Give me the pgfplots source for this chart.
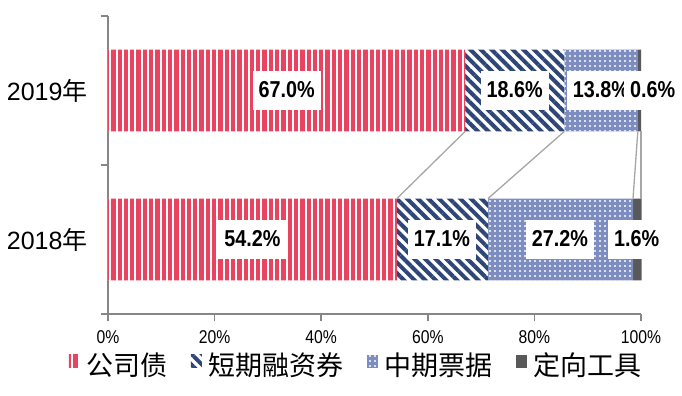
\documentclass[border=0pt]{standalone}
\usepackage{pgfplots}
\pgfplotsset{compat=1.18}
\usepackage{fontspec}
\usetikzlibrary{patterns.meta}
\setmainfont{Liberation Sans}
\newfontfamily\cjk{Noto Sans CJK SC}
\newfontfamily\tickfont[FakeStretch=0.85]{Liberation Sans}
\newfontfamily\lblfont[FakeStretch=0.86]{Liberation Sans}
\definecolor{cred}{HTML}{E9435F}
\definecolor{cnavy}{HTML}{2E4677}
\definecolor{cblue}{HTML}{7D8DC0}
\definecolor{cgray}{HTML}{595959}
\definecolor{caxis}{HTML}{868686}
\definecolor{cline}{HTML}{A6A6A6}
\begin{document}
\begin{tikzpicture}
\pgfplotsset{
  common/.style={
    scale only axis, width=533bp, height=298bp,
    xmin=0, xmax=100, ymin=-0.5, ymax=1.5, clip=false,
  }
}
\begin{axis}[common,
  xbar stacked, bar width=0.55,
  axis x line*=bottom, axis y line*=left,
  axis line style={caxis, line width=1.5bp},
  tick style={caxis, line width=1.5bp},
  tick align=outside, major tick length=7bp,
  xtick={0,20,40,60,80,100},
  /pgf/number format/assume math mode=true,
  xticklabel={\pgfmathprintnumber{\tick}\%},
  xticklabel style={yshift=-6bp, font=\tickfont\fontsize{18.5bp}{20bp}\selectfont},
  ytick={-0.5,0.5,1.5}, yticklabels={,,},
  extra y ticks={0,1},
  extra y tick labels={{2018{\cjk 年}}, {2019{\cjk 年}}},
  extra y tick style={tick style={draw=none}},
  yticklabel style={font=\fontsize{25bp}{28bp}\selectfont, xshift=-10bp},
  legend columns=-1,
  legend style={draw=none, fill=none, at={(0.466,-0.171)}, anchor=center,
    font=\cjk\fontsize{27bp}{30bp}\selectfont,
    /tikz/every odd column/.append style={column sep=5bp},
    /tikz/every even column/.append style={column sep=21bp},
    inner sep=0pt},
  legend image code/.code={\path[#1] (0bp,-3bp) rectangle (11bp,10bp);},
]
\addplot[fill=white, draw=none,
  postaction={pattern={Lines[angle=90,distance=6.3bp,line width=4.3bp]}, pattern color=cred}]
  coordinates {(54.2,0) (67.0,1)};
\addplot[fill=white, draw=none,
  postaction={pattern={Lines[angle=-45,distance=7.5bp,line width=4bp]}, pattern color=cnavy}]
  coordinates {(17.1,0) (18.6,1)};
\addplot[fill=cblue, draw=none,
  postaction={pattern={Dots[distance=5bp,radius=1.15bp]}, pattern color=white}]
  coordinates {(27.2,0) (13.8,1)};
\addplot[fill=cgray, draw=none]
  coordinates {(1.6,0) (0.6,1)};
\addlegendentry{公司债}
\addlegendentry{短期融资券}
\addlegendentry{中期票据}
\addlegendentry{定向工具}
\coordinate (O) at (rel axis cs:0,0);
\end{axis}
\begin{axis}[common, hide axis]
\addplot[cline, line width=1.3bp] coordinates {(54.2,0.275) (67.0,0.725)};
\addplot[cline, line width=1.3bp] coordinates {(71.3,0.275) (85.6,0.725)};
\addplot[cline, line width=1.3bp] coordinates {(98.5,0.275) (99.4,0.725)};
\addplot[cline, line width=1.3bp] coordinates {(100.0,0.275) (100.0,0.725)};
\addplot[draw=none, mark=none, nodes near coords, point meta=explicit symbolic,
  every node near coord/.append style={anchor=center, fill=white,
    inner xsep=6bp, inner ysep=11bp, text height=16bp, text depth=1bp,
    font=\lblfont\fontsize{23bp}{24bp}\selectfont\bfseries, text=black}]
  coordinates {
    (27.1,0) [54.2\%]
    (62.65,0) [17.1\%]
    (84.8,0) [27.2\%]
    (99.2,0) [1.6\%]
    (33.5,1) [67.0\%]
    (76.3,1) [18.6\%]
    (92.5,1) [13.8\%]
    (102.2,1) [0.6\%]
  };
\end{axis}
\pgfresetboundingbox
\path ([shift={(-108bp,-82bp)}]O) rectangle ++(682bp,396bp);
\end{tikzpicture}
\end{document}
